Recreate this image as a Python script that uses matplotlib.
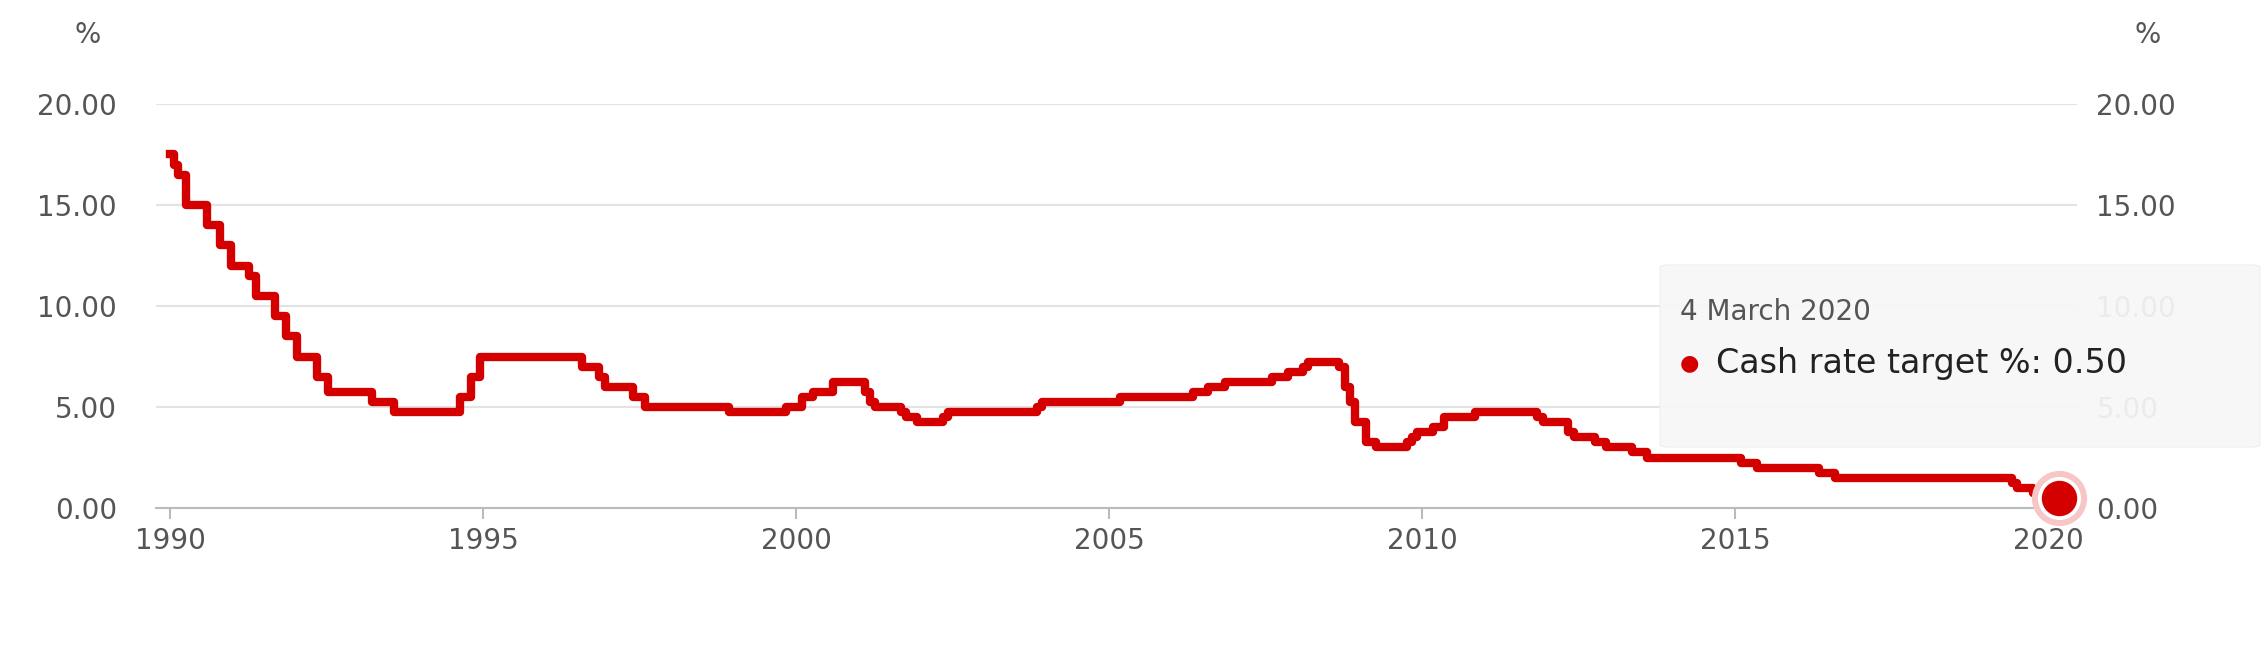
import matplotlib
matplotlib.use("Agg")
import matplotlib.pyplot as plt
from matplotlib.patches import FancyBboxPatch
import datetime as dt

dates = ["1990-01-01","1990-01-23","1990-02-15","1990-04-04","1990-08-02","1990-10-15","1990-12-18",
"1991-04-04","1991-05-16","1991-09-03","1991-11-06","1992-01-08","1992-05-06","1992-07-08","1993-03-23",
"1993-07-30","1994-08-17","1994-10-24","1994-12-14","1996-07-31","1996-11-06","1996-12-11","1997-05-23",
"1997-07-30","1998-12-02","1999-11-03","2000-02-02","2000-04-05","2000-08-02","2001-02-07","2001-03-07",
"2001-04-04","2001-09-05","2001-10-03","2001-12-05","2002-05-08","2002-06-05","2003-11-05","2003-12-03",
"2005-03-02","2006-05-03","2006-08-02","2006-11-08","2007-08-08","2007-11-07","2008-02-06","2008-03-05",
"2008-09-03","2008-10-08","2008-11-05","2008-12-03","2009-02-04","2009-04-08","2009-10-07","2009-11-04",
"2009-12-02","2010-03-03","2010-05-05","2010-11-03","2011-11-02","2011-12-07","2012-05-02","2012-06-06",
"2012-10-03","2012-12-05","2013-05-08","2013-08-07","2015-02-04","2015-05-06","2016-05-04","2016-08-03",
"2019-06-05","2019-07-03","2019-10-02","2020-03-04"]
rates = [17.5,17.0,16.5,15.0,14.0,13.0,12.0,11.5,10.5,9.5,8.5,7.5,6.5,5.75,5.25,4.75,5.5,6.5,7.5,7.0,6.5,
6.0,5.5,5.0,4.75,5.0,5.5,5.75,6.25,5.75,5.25,5.0,4.75,4.5,4.25,4.5,4.75,5.0,5.25,5.5,5.75,6.0,6.25,6.5,
6.75,7.0,7.25,7.0,6.0,5.25,4.25,3.25,3.0,3.25,3.5,3.75,4.0,4.5,4.75,4.5,4.25,3.75,3.5,3.25,3.0,2.75,2.5,
2.25,2.0,1.75,1.5,1.25,1.0,0.75,0.5]
yticks = [0, 5, 10, 15, 20]
xticks = [1990, 1995, 2000, 2005, 2010, 2015, 2020]

def dec(s):
    d = dt.date.fromisoformat(s)
    return d.year + (d.timetuple().tm_yday - 1) / 365.25

x = [dec(s) for s in dates]
red = "#d40000"
grey = "#555555"

fig = plt.figure(figsize=(22.62, 6.51), dpi=100)
ax = fig.add_axes([156/2262, 1-508/651, (2077-156)/2262, (508-104)/651])
ax.step(x, rates, where="post", color=red, lw=6, solid_joinstyle="round", zorder=3)
ax.set_xlim(1989.77, 2020.46)
ax.set_ylim(0, 20)
ax.set_yticks(yticks)
ax.set_yticklabels([f"{v:.2f}" for v in yticks])
ax.set_xticks(xticks)
ax.grid(axis="y", color="#e3e3e3", lw=1.5)
for s in ["top", "right", "left"]:
    ax.spines[s].set_visible(False)
ax.spines["bottom"].set_color("#bbbbbb")
ax.spines["bottom"].set_linewidth(1.5)
ax.tick_params(axis="y", length=0, labelsize=20, labelcolor=grey, pad=28)
ax.tick_params(axis="x", length=8, color="#bbbbbb", width=1.5, labelsize=20, labelcolor=grey, pad=6)
ax2 = ax.twinx()
ax2.set_ylim(0, 20)
ax2.set_yticks(yticks)
ax2.set_yticklabels([f"{v:.2f}" for v in yticks])
ax2.tick_params(axis="y", length=0, labelsize=20, labelcolor=grey, pad=14)
for s in ax2.spines.values():
    s.set_visible(False)
fig.text(88/2262, 1-35/651, "%", fontsize=20, color=grey, ha="center", va="center")
fig.text(2148/2262, 1-35/651, "%", fontsize=20, color=grey, ha="center", va="center")

ax.scatter([x[-1]], [rates[-1]], s=1500, color="#f7c6c6", zorder=4, clip_on=False)
ax.scatter([x[-1]], [rates[-1]], s=900, color="white", zorder=4, clip_on=False)
ax.scatter([x[-1]], [rates[-1]], s=600, color=red, zorder=5, clip_on=False)

box = FancyBboxPatch((1660/2262, 1-447/651), (2262-1662)/2262, (447-265)/651,
                     boxstyle="round,pad=0,rounding_size=0.004", transform=fig.transFigure,
                     facecolor="#f7f7f7", edgecolor="#f0f0f0", alpha=0.93, zorder=10)
fig.patches.append(box)
fig.text(1680/2262, 1-312/651, "4 March 2020", fontsize=20, color=grey, va="center", zorder=11)
fig.text(1680/2262, 1-363/651, "●", fontsize=16, color=red, va="center", zorder=11)
fig.text(1716/2262, 1-363/651, "Cash rate target %: 0.50", fontsize=24, color="#222222", va="center", zorder=11)

fig.savefig("out.png", dpi=100)
